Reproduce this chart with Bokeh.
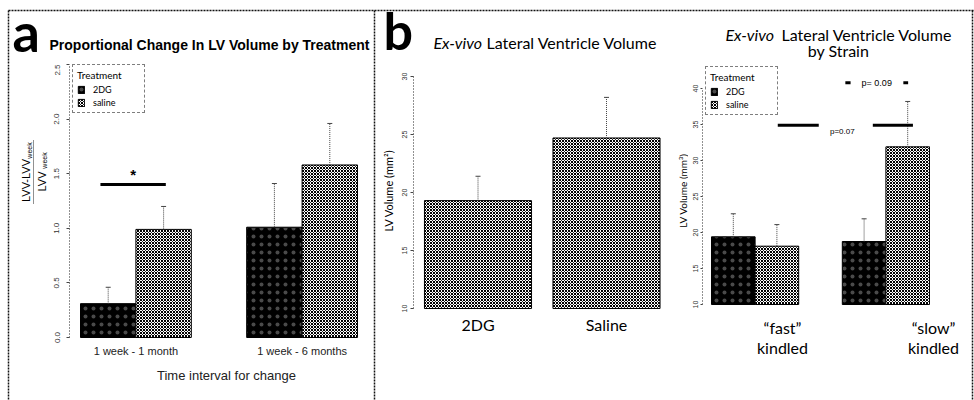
import numpy as np
from bokeh.plotting import figure
from bokeh.layouts import row, column
from bokeh.models import (Label, Legend, LegendItem, FixedTicker, Range1d, Span,
                          PrintfTickFormatter)
from bokeh.embed import file_html
from bokeh.resources import INLINE

# ---------------- data ----------------
# (a) proportional change in LV volume by treatment
intervals = ["1 week - 1 month", "1 week - 6 months"]
change_2dg = [0.31, 1.01]
change_2dg_se = [0.15, 0.40]
change_saline = [0.99, 1.58]
change_saline_se = [0.21, 0.38]
change_ticks = [0.0, 0.5, 1.0, 1.5, 2.0, 2.5]

# (b) ex-vivo lateral ventricle volume
treatments = ["2DG", "Saline"]
lv_volume = [19.3, 24.7]
lv_volume_se = [2.1, 3.5]
lv_ticks = [10, 15, 20, 25, 30]

# (b) ex-vivo lateral ventricle volume by strain
strains = [("\u201cfast\u201d", "kindled"), ("\u201cslow\u201d", "kindled")]
strain_2dg = [19.4, 18.75]
strain_2dg_se = [3.2, 3.15]
strain_saline = [18.1, 31.9]
strain_saline_se = [3.0, 6.3]
strain_ticks = [10, 15, 20, 25, 30, 35, 40]

FONT_A = "Liberation Sans"
FONT_B = "Lato"
ROW_TOP = 64          # the plotting row starts below the heading strip
BORDER = dict(line_color="#111", line_width=1.5, line_dash="2 1")

DG_STYLE = dict(fill_color="black", hatch_pattern="dot", hatch_scale=8, hatch_weight=0.4,
                hatch_color="#4a4a4a", line_color="black", line_width=1)
SALINE_STYLE = dict(fill_color="white", hatch_pattern="diagonal_cross", hatch_scale=3,
                    hatch_weight=1, hatch_color="black", line_color="black", line_width=1)


def lin_range(v_a, px_a, v_b, px_b, px_lo, px_hi):
    """Range end values so that v_a/v_b land on pixels px_a/px_b."""
    k = (v_b - v_a) / (px_b - px_a)
    return v_a + (px_lo - px_a) * k, v_a + (px_hi - px_a) * k


def base_fig(width, height, xr, yr, mbl=0):
    p = figure(width=width, height=height, x_range=Range1d(*xr), y_range=Range1d(*yr),
               output_backend="svg", toolbar_location=None, title=None,
               min_border_left=mbl, min_border_right=0, min_border_top=0,
               min_border_bottom=0, frame_align=False)
    p.grid.visible = False
    p.outline_line_color = None
    p.background_fill_color = "white"
    p.border_fill_color = "white"
    return p


def pixel_fig(gx0, gy0, width, height):
    """A text-only strip whose data coordinates are page pixels."""
    p = base_fig(width, height, (gx0, gx0 + width), (gy0 + height, gy0))
    p.renderers = []
    p.below = []
    p.left = []
    return p


def data_fig(gx0, width, mbl, xanchor, yanchor):
    l, r, t, b = gx0 + mbl, gx0 + width, ROW_TOP, 400
    xr = lin_range(*xanchor, l, r)
    yr = lin_range(*yanchor, b, t)
    p = base_fig(width, 400 - ROW_TOP, xr, yr, mbl)
    p.below = []
    p.tags = [dict(xr=xr, yr=yr, l=l, r=r, t=t, b=b)]
    return p


def to_data(p, px, py):
    g = p.tags[0]
    (x0, x1), (y0, y1) = g["xr"], g["yr"]
    return (x0 + (px - g["l"]) * (x1 - x0) / (g["r"] - g["l"]),
            y0 + (py - g["b"]) * (y1 - y0) / (g["t"] - g["b"]))


def text(p, x, y, s, font, size, style="normal", align="left", baseline="middle",
         angle=0.0, color="black"):
    p.add_layout(Label(x=x, y=y, text=s, text_font=font, text_font_size=f"{size}px",
                       text_font_style=style, text_align=align, text_baseline=baseline,
                       angle=angle, text_color=color))


def error_bars(p, xs, means, ses):
    xs = np.asarray(xs, dtype=float)
    tops = np.asarray(means) + np.asarray(ses)
    p.segment(x0=xs, y0=means, x1=xs, y1=tops, line_color="#444", line_width=1, line_dash="1 1")
    p.scatter(x=xs, y=tops, marker="dash", size=5, line_color="#444", line_width=1)


def style_yaxis(p, ticks, bounds, size, tick_out=3, standoff=4):
    ax = p.yaxis[0]
    ax.ticker = FixedTicker(ticks=ticks)
    ax.bounds = bounds
    ax.axis_line_dash = "1 2"
    ax.axis_line_color = "#222"
    ax.major_tick_out = tick_out
    ax.major_tick_in = 0
    ax.minor_tick_out = 0
    ax.minor_tick_in = 0
    ax.major_tick_line_color = "#444"
    ax.major_label_orientation = "parallel"
    ax.major_label_text_font = FONT_A
    ax.major_label_text_font_size = f"{size}px"
    ax.major_label_text_color = "#333"
    ax.major_label_standoff = standoff


def make_legend(p, r_dg, r_sal, vx, vy):
    leg = Legend(items=[LegendItem(label="2DG", renderers=[r_dg]),
                        LegendItem(label="saline", renderers=[r_sal])],
                 title="Treatment", location=(vx, vy), margin=0, padding=4, spacing=1,
                 glyph_width=8, glyph_height=9, label_height=12, label_width=47,
                 label_standoff=8, title_standoff=2,
                 title_text_font=FONT_B, title_text_font_size="10px",
                 title_text_font_style="normal", title_text_color="black",
                 label_text_font=FONT_B, label_text_color="black",
                 label_text_font_size="9px", border_line_color="black",
                 border_line_dash="2 1", border_line_width=1,
                 background_fill_color="white", background_fill_alpha=1)
    p.add_layout(leg)


rot = np.pi / 2

# ---------------- heading strip ----------------
top = pixel_fig(0, 0, 974, ROW_TOP)
text(top, 12, 30.5, "a", FONT_B, 54, style="bold")
text(top, 49, 44, "Proportional Change In LV Volume by Treatment", FONT_A, 14, style="bold")
text(top, 383, 29, "b", FONT_B, 52, style="bold")
text(top, 433, 42, "Ex-vivo", FONT_B, 16, style="italic")
text(top, 657, 42, "Lateral Ventricle Volume", FONT_B, 16, align="right")
text(top, 725, 34, "Ex-vivo", FONT_B, 16, style="italic")
text(top, 952, 34, "Lateral Ventricle Volume", FONT_B, 16, align="right")
text(top, 838, 50, "by Strain", FONT_B, 16, align="center")
top.segment(x0=[8, 8, 374, 972], y0=[10, 10, 10, 10], x1=[974, 8, 374, 972],
            y1=[10, ROW_TOP, ROW_TOP, ROW_TOP], **BORDER)

# ---------------- panel a: y label strip ----------------
side_a = pixel_fig(0, ROW_TOP, 49, 400 - ROW_TOP)
text(side_a, 25, 180, "LVV-LVV", FONT_A, 11, align="center", angle=rot)
text(side_a, 29, 150, "week", FONT_A, 7, align="center", angle=rot)
text(side_a, 41, 181, "LVV", FONT_A, 11, align="center", angle=rot)
text(side_a, 44, 160, "week", FONT_A, 7, align="center", angle=rot)
side_a.segment(x0=[33], y0=[140], x1=[33], y1=[203], line_color="#222", line_width=1,
               line_dash="1 1")
side_a.segment(x0=[8], y0=[ROW_TOP], x1=[8], y1=[400], **BORDER)

# ---------------- panel a: bars ----------------
pA = data_fig(49, 327, 20, (1, 80, 6, 357), (0, 337, 2.5, 64))
ga = np.arange(len(intervals)) * 3
ra_dg = pA.vbar(x=ga + 1.5, top=change_2dg, bottom=0, width=1, **DG_STYLE)
ra_sal = pA.vbar(x=ga + 2.5, top=change_saline, bottom=0, width=1, **SALINE_STYLE)
error_bars(pA, ga + 1.5, change_2dg, change_2dg_se)
error_bars(pA, ga + 2.5, change_saline, change_saline_se)
style_yaxis(pA, change_ticks, (0, 2.5), 8, standoff=7)
pA.yaxis[0].formatter = PrintfTickFormatter(format="%.1f")

_, y_lab = to_data(pA, 0, 350)
for xv, s in zip(ga + 2, intervals):
    text(pA, xv, y_lab, s, FONT_A, 11, align="center", color="#222")
x_t, y_t = to_data(pA, 226, 375)
text(pA, x_t, y_t, "Time interval for change", FONT_A, 13, align="center", color="#222")

# significance bar between the 1-month groups
pA.segment(x0=[1.36], y0=[1.40], x1=[2.54], y1=[1.40], line_color="black", line_width=3)
text(pA, 1.95, 1.49, "*", FONT_A, 15, style="bold", align="center")
make_legend(pA, ra_dg, ra_sal, 3, 287)
pA.add_layout(Span(location=to_data(pA, 374, 0)[0], dimension="height", **BORDER))

# ---------------- panel b, left ----------------
side_b1 = pixel_fig(376, ROW_TOP, 20, 400 - ROW_TOP)
text(side_b1, 388, 190, "LV Volume (mm\u00b2)", FONT_B, 11, align="center", angle=rot)

pB1 = data_fig(396, 276, 17, (0.7, 477.5, 1.9, 606), (10, 308, 30, 76))
bx = 0.7 + 1.2 * np.arange(len(treatments))
pB1.vbar(x=bx, top=lv_volume, bottom=lv_ticks[0], width=1, **SALINE_STYLE)
error_bars(pB1, bx, lv_volume, lv_volume_se)
style_yaxis(pB1, lv_ticks, (10, 30), 7)
_, y_lab = to_data(pB1, 0, 324)
for xv, s in zip(bx, treatments):
    text(pB1, xv, y_lab, s, FONT_B, 16, align="center")

# ---------------- panel b, right ----------------
side_b2 = pixel_fig(672, ROW_TOP, 16, 400 - ROW_TOP)
text(side_b2, 682, 190, "LV Volume (mm\u00b3)", FONT_B, 10, align="center", angle=rot)

pB2 = data_fig(688, 286, 14, (1, 711, 6, 929), (10, 304, 40, 88))
sx = np.arange(len(strains)) * 3
rb_dg = pB2.vbar(x=sx + 1.5, top=strain_2dg, bottom=strain_ticks[0], width=1, **DG_STYLE)
rb_sal = pB2.vbar(x=sx + 2.5, top=strain_saline, bottom=strain_ticks[0], width=1, **SALINE_STYLE)
error_bars(pB2, sx + 1.5, strain_2dg, strain_2dg_se)
error_bars(pB2, sx + 2.5, strain_saline, strain_saline_se)
style_yaxis(pB2, strain_ticks, (10, 40), 7, tick_out=2, standoff=3)

# strain names under the groups
for (line1, line2), gpx in zip(strains, [782, 933]):
    x1, y1 = to_data(pB2, gpx, 327)
    _, y2 = to_data(pB2, gpx, 347)
    text(pB2, x1, y1, line1, FONT_B, 16, align="center")
    text(pB2, x1, y2, line2, FONT_B, 16, align="center")

# significance markers
pB2.segment(x0=[2.52, 4.70], y0=[34.9, 34.9], x1=[3.46, 5.62], y1=[34.9, 34.9],
            line_color="black", line_width=3)
pB2.segment(x0=[4.07, 5.40], y0=[40.8, 40.8], x1=[4.19, 5.51], y1=[40.8, 40.8],
            line_color="black", line_width=3)
text(pB2, 4.0, 34.0, "p=0.07", FONT_A, 8, align="center")
text(pB2, 4.79, 40.8, "p= 0.09", FONT_A, 9, align="center")
make_legend(pB2, rb_dg, rb_sal, 3, 285)
pB2.add_layout(Span(location=to_data(pB2, 972, 0)[0], dimension="height", **BORDER))

layout = column(top, row(side_a, pA, side_b1, pB1, side_b2, pB2, spacing=0), spacing=0)
open("out.html", "w").write(file_html(layout, INLINE))
